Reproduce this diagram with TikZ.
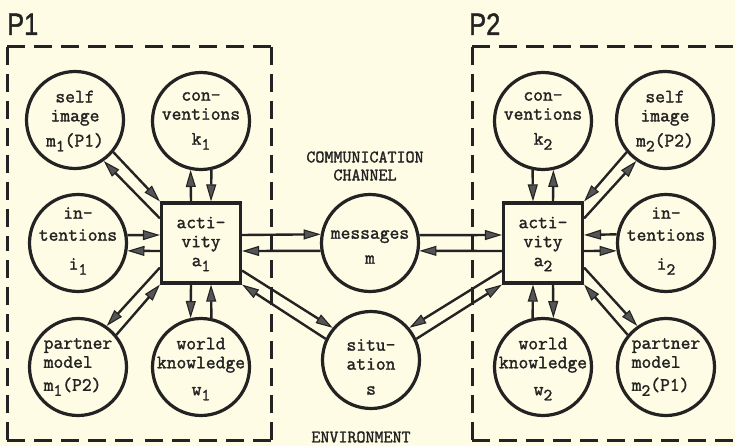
\documentclass[tikz,border=0pt]{standalone}
\usepackage{fontspec}
\newfontfamily\monofam{Latin Modern Mono}[FakeBold=1.6]
\newfontfamily\sansfam{Liberation Sans}[FakeBold=1.5]
\usetikzlibrary{arrows.meta,calc}
\definecolor{bgcol}{RGB}{254,252,228}
\definecolor{ink}{RGB}{35,35,35}
\definecolor{tipgray}{RGB}{85,85,85}
\newcommand\lowsub[1]{\raisebox{-5pt}{\fontsize{17}{17}\selectfont #1}}
\newcommand\dashside[2]{\draw[dashframe] (#1) -- ($(#1)!0.5!(#2)$); \draw[dashframe] (#2) -- ($(#1)!0.5!(#2)$);}
\begin{document}
\begin{tikzpicture}[x=1pt,y=-1pt,
  circ/.style={circle,draw=ink,line width=3.2pt,minimum size=97pt,inner sep=0pt},
  actbox/.style={rectangle,draw=ink,line width=3.2pt,minimum width=79pt,minimum height=80pt,inner sep=0pt},
  lab/.style={font=\monofam\fontsize{19}{19}\selectfont,text=ink,align=center,inner sep=0pt},
  caps/.style={font=\monofam\fontsize{17.5}{18}\selectfont,text=ink,align=center,inner sep=0pt},
  big/.style={font=\sansfam\fontsize{31}{31}\selectfont,text=ink,inner sep=0pt,anchor=base west},
  conn/.style={draw=ink,line width=2.4pt,-{Triangle[length=17pt,width=10pt,fill=tipgray,line width=1.1pt]}},
  dashframe/.style={draw=ink,line width=3pt,dash pattern=on 18pt off 9pt}]
\fill[bgcol] (0,0) rectangle (735,446);
\useasboundingbox (0,0) rectangle (735,446);

% frames
\coordinate (p1a) at (7,47);
\coordinate (p1b) at (271,47);
\coordinate (p1c) at (271,440);
\coordinate (p1d) at (7,440);
\dashside{p1a}{p1b}
\dashside{p1b}{p1c}
\dashside{p1c}{p1d}
\dashside{p1d}{p1a}
\coordinate (p2a) at (472,47);
\coordinate (p2b) at (736,47);
\coordinate (p2c) at (736,440);
\coordinate (p2d) at (472,440);
\draw[dashframe] (p2a) -- (p2b);
\draw[dashframe] (p2d) -- (p2c);
\dashside{p2a}{p2d}

\node[big] (P1) at (7,35) {\scalebox{0.82}[1]{P1}};
\node[big] (P2) at (469,35) {\scalebox{0.82}[1]{P2}};

% left person
\node[circ] (si1) at (75,120) {};
\node[lab] (si1t) at (75,121) {self\\image\\[6pt]m\lowsub{1}(P1)};
\node[circ] (k1) at (201,121) {};
\node[lab] (k1t) at (201,121) {con-\\ventions\\[6pt]k\lowsub{1}};
\node[circ] (i1) at (78,243) {};
\node[lab] (i1t) at (78,241) {in-\\[3pt]tentions\\[10pt]i\lowsub{1}};
\node[circ] (pm1) at (78,367) {};
\node[lab,align=left] (pm1t) at (78,367) {partner\\model\\[4pt]m\lowsub{1}(P2)};
\node[circ] (wk1) at (201,367) {};
\node[lab] (wk1t) at (201,369) {world\\knowledge\\[8pt]w\lowsub{1}};
\node[actbox] (a1) at (201,243) {};
\node[lab] (a1t) at (201,244) {acti-\\vity\\a\lowsub{1}};

% middle
\node[circ] (msg) at (370,243) {};
\node[lab] (msgt) at (370,247) {messages\\[6pt]m};
\node[circ] (sit) at (371,360) {};
\node[lab] (sitt) at (371,367) {situ-\\ation\\[6pt]s};
\node[caps] (chan) at (365,166) {COMMUNICATION\\CHANNEL};
\node[caps] (env) at (361,437) {ENVIRONMENT};

% right person
\node[circ] (k2) at (543,121) {};
\node[lab] (k2t) at (543,121) {con-\\ventions\\[6pt]k\lowsub{2}};
\node[circ] (si2) at (665,120) {};
\node[lab] (si2t) at (665,121) {self\\image\\[6pt]m\lowsub{2}(P2)};
\node[circ] (i2) at (666,243) {};
\node[lab] (i2t) at (666,241) {in-\\[3pt]tentions\\[10pt]i\lowsub{2}};
\node[circ] (wk2) at (543,367) {};
\node[lab] (wk2t) at (543,369) {world\\knowledge\\[8pt]w\lowsub{2}};
\node[circ] (pm2) at (666,367) {};
\node[lab,align=left] (pm2t) at (666,367) {partner\\model\\[4pt]m\lowsub{2}(P1)};
\node[actbox] (a2) at (543,243) {};
\node[lab] (a2t) at (543,244) {acti-\\vity\\a\lowsub{2}};

% connectors left
\draw[conn] ([xshift=-10pt]a1.north) -- (k1.258);
\draw[conn] (k1.282) -- ([xshift=10pt]a1.north);
\draw[conn] ([xshift=-10pt]a1.south) -- (wk1.102);
\draw[conn] (wk1.78) -- ([xshift=10pt]a1.south);
\draw[conn] (i1.9.4) -- ([yshift=8pt]a1.west);
\draw[conn] ([yshift=-8pt]a1.west) -- (i1.-9.4);
\draw[conn] (si1.-40) -- (a1.north west);
\draw[conn] ([yshift=-17pt]a1.north west) -- (si1.-55);
\draw[conn] (pm1.40) -- (a1.south west);
\draw[conn] ([yshift=17pt]a1.south west) -- (pm1.55);
\draw[conn] ([yshift=8pt]a1.east) -- (msg.170.6);
\draw[conn] (msg.189.4) -- ([yshift=-8pt]a1.east);
\draw[conn] ([yshift=14pt]a1.south east) -- (sit.140);
\draw[conn] (sit.155) -- (a1.south east);

% connectors right
\draw[conn] (k2.258) -- ([xshift=-10pt]a2.north);
\draw[conn] ([xshift=10pt]a2.north) -- (k2.282);
\draw[conn] (wk2.102) -- ([xshift=-10pt]a2.south);
\draw[conn] ([xshift=10pt]a2.south) -- (wk2.78);
\draw[conn] (i2.170.6) -- ([yshift=8pt]a2.east);
\draw[conn] ([yshift=-8pt]a2.east) -- (i2.189.4);
\draw[conn] (si2.220) -- (a2.north east);
\draw[conn] ([yshift=-17pt]a2.north east) -- (si2.235);
\draw[conn] (pm2.140) -- (a2.south east);
\draw[conn] ([yshift=17pt]a2.south east) -- (pm2.125);
\draw[conn] (msg.9.4) -- ([yshift=8pt]a2.west);
\draw[conn] ([yshift=-8pt]a2.west) -- (msg.-9.4);
\draw[conn] ([yshift=14pt]a2.south west) -- (sit.40);
\draw[conn] (sit.25) -- (a2.south west);
\end{tikzpicture}
\end{document}
